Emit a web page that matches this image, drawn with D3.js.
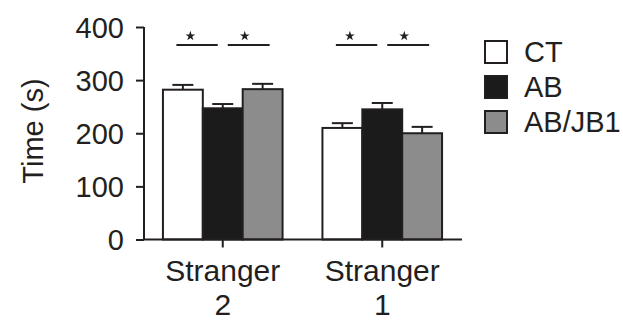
<!DOCTYPE html>
<html>
<head>
<meta charset="utf-8">
<script src="https://cdn.jsdelivr.net/npm/d3@7/dist/d3.min.js"></script>
<style>
  html, body { margin: 0; padding: 0; background: #fff; }
  svg { display: block; }
  text { font-family: "Liberation Sans", Arial, Helvetica, sans-serif; fill: #231f20; }
</style>
</head>
<body>
<svg id="chart" width="623" height="322"></svg>
<script>
// Time spent with each stranger, by treatment group
const categories = ["Stranger 2", "Stranger 1"];
const series = ["CT", "AB", "AB/JB1"];
const meanCT = [282, 210];
const meanAB = [247, 245];
const meanABJB1 = [283, 200];
const semCT = [9, 9];
const semAB = [8, 12];
const semABJB1 = [10, 12];
const yTicks = [0, 100, 200, 300, 400];
// Significant pairwise comparisons within each category
const sigPairs = [["CT", "AB"], ["AB", "AB/JB1"]];

const means = { "CT": meanCT, "AB": meanAB, "AB/JB1": meanABJB1 };
const sems = { "CT": semCT, "AB": semAB, "AB/JB1": semABJB1 };
const fills = { "CT": "#ffffff", "AB": "#1b1b1b", "AB/JB1": "#8c8c8c" };
const ink = "#231f20";

const svg = d3.select("#chart");

const y = d3.scaleLinear().domain([0, 400]).range([239.5, 27]);
const x = d3.scaleBand().domain(categories).range([143, 462])
  .paddingInner(0.25).paddingOuter(0.125);
const xs = d3.scaleBand().domain(series).range([0, x.bandwidth()]);

const rows = [];
categories.forEach((c, i) => series.forEach(s => rows.push({
  cat: c, s, v: means[s][i], e: sems[s][i]
})));

// Bars
const g = svg.append("g");
g.selectAll("rect.bar").data(rows).join("rect")
  .attr("class", "bar")
  .attr("x", d => x(d.cat) + xs(d.s))
  .attr("y", d => y(d.v))
  .attr("width", xs.bandwidth())
  .attr("height", d => y(0) - y(d.v))
  .attr("fill", d => fills[d.s])
  .attr("stroke", ink)
  .attr("stroke-width", 2);

// Error bars (upper only)
const center = (cat, s) => x(cat) + xs(s) + xs.bandwidth() / 2;
const cx = d => center(d.cat, d.s);
g.selectAll("line.err").data(rows).join("line")
  .attr("x1", cx).attr("x2", cx)
  .attr("y1", d => y(d.v)).attr("y2", d => y(d.v + d.e))
  .attr("stroke", ink).attr("stroke-width", 2);
g.selectAll("line.cap").data(rows).join("line")
  .attr("x1", d => cx(d) - 10.5).attr("x2", d => cx(d) + 10.5)
  .attr("y1", d => y(d.v + d.e)).attr("y2", d => y(d.v + d.e))
  .attr("stroke", ink).attr("stroke-width", 2);

// Y axis
const yAxis = svg.append("g").attr("transform", "translate(144,0)")
  .call(d3.axisLeft(y).tickValues(yTicks).tickSize(8).tickPadding(12));
yAxis.select(".domain").attr("d", `M0,${y(400)}V${y(0)}`).attr("stroke", ink).attr("stroke-width", 2);
yAxis.selectAll(".tick line").attr("stroke", ink).attr("stroke-width", 2);
yAxis.selectAll(".tick text").style("font-size", "29px").attr("fill", ink)
  .style("font-family", "'Liberation Sans', Arial, sans-serif").attr("dy", "0.36em");

// X axis
const xAxis = svg.append("g").attr("transform", `translate(0,${y(0)})`)
  .call(d3.axisBottom(x).tickSize(8).tickFormat(""));
xAxis.select(".domain").attr("d", "M143,0H462").attr("stroke", ink).attr("stroke-width", 2);
xAxis.selectAll(".tick line").attr("stroke", ink).attr("stroke-width", 2);

// Two-line category labels
categories.forEach(c => {
  const parts = c.split(" ");
  const mx = x(c) + x.bandwidth() / 2;
  const t = svg.append("text").attr("text-anchor", "middle").style("font-size", "30px");
  t.append("tspan").attr("x", mx).attr("y", 281).text(parts[0]);
  t.append("tspan").attr("x", mx).attr("y", 315).text(parts[1]);
});

// Y axis title
svg.append("text")
  .attr("transform", "translate(43,131) rotate(-90)")
  .attr("text-anchor", "middle")
  .style("font-size", "29px")
  .text("Time (s)");

// Significance lines and stars: each line stops short of the middle bar's centre
const mid = series[1];
const sigRows = [];
categories.forEach(c => sigPairs.forEach(p => {
  const a = center(c, p[0]), b = center(c, p[1]);
  const x1 = p[0] === mid ? a + 5 : a - 6.5;
  const x2 = p[1] === mid ? b - 5 : b + 7;
  sigRows.push({ x1, x2, sx: p[0] === mid ? x1 + 17 : x1 + 14 });
}));
svg.selectAll("line.sig").data(sigRows).join("line")
  .attr("x1", d => d.x1).attr("x2", d => d.x2)
  .attr("y1", 45).attr("y2", 45)
  .attr("stroke", ink).attr("stroke-width", 2);
svg.selectAll("path.star").data(sigRows).join("path")
  .attr("transform", d => `translate(${d.sx},36)`)
  .attr("d", d3.symbol(d3.symbolStar, 30))
  .attr("fill", ink);

// Legend
const leg = svg.append("g").attr("transform", "translate(485,41)");
series.forEach((s, i) => {
  const row = leg.append("g").attr("transform", `translate(0,${i * 35})`);
  row.append("rect").attr("width", 22).attr("height", 22)
    .attr("fill", fills[s]).attr("stroke", ink).attr("stroke-width", 2);
  row.append("text").attr("x", 39).attr("y", 21)
    .style("font-size", "29px").text(s);
});
</script>
</body>
</html>
